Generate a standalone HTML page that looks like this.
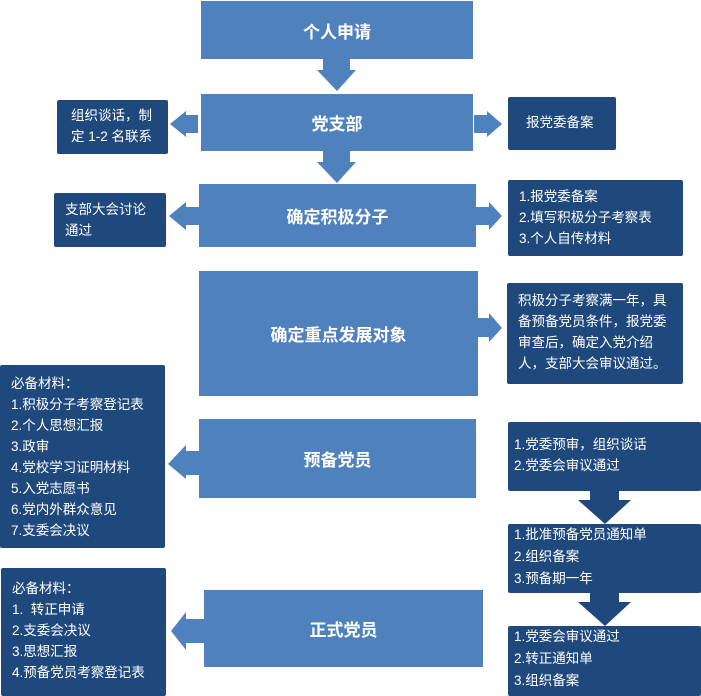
<!DOCTYPE html>
<html><head><meta charset="utf-8"><style>
body{margin:0;width:701px;height:696px;background:#fff;position:relative;overflow:hidden;font-family:"Liberation Sans","Noto Sans CJK SC",sans-serif;}
.b{position:absolute;background:#4F81BD;color:#fff;font-weight:bold;font-size:17px;display:flex;align-items:center;justify-content:center;}
.d{position:absolute;background:#1F497D;color:#fff;font-size:13.5px;line-height:21px;box-sizing:border-box;border-radius:2px;}
svg{position:absolute;left:0;top:0;}
</style></head><body>
<div class="b" style="left:201px;top:1px;width:272px;height:58px">个人申请</div>
<div class="b" style="left:201px;top:94px;width:272px;height:57px">党支部</div>
<div class="b" style="left:199px;top:184px;width:277px;height:63px">确定积极分子</div>
<div class="b" style="left:199px;top:271px;width:279px;height:125px">确定重点发展对象</div>
<div class="b" style="left:199px;top:419px;width:277px;height:79px">预备党员</div>
<div class="b" style="left:204px;top:590px;width:279px;height:77px">正式党员</div>

<div class="d" style="left:57px;top:100px;width:111px;height:54px;padding:5px 0 0 14px">组织谈话，制<br>定 1-2 名联系</div>
<div class="d" style="left:508px;top:97px;width:108px;height:53px;padding:15px 0 0 18px">报党委备案</div>
<div class="d" style="left:54px;top:193px;width:112px;height:54px;padding:6px 0 0 11px">支部大会讨论<br>通过</div>
<div class="d" style="left:508px;top:180px;width:175px;height:76px;padding:6px 0 0 11px">1.报党委备案<br>2.填写积极分子考察表<br>3.个人自传材料</div>
<div class="d" style="left:507px;top:283px;width:176px;height:101px;padding:7px 0 0 11px">积极分子考察满一年，具<br>备预备党员条件，报党委<br>审查后，确定入党介绍<br>人，支部大会审议通过。</div>
<div class="d" style="left:0px;top:365px;width:165px;height:183px;padding:8px 0 0 11px">必备材料：<br>1.积极分子考察登记表<br>2.个人思想汇报<br>3.政审<br>4.党校学习证明材料<br>5.入党志愿书<br>6.党内外群众意见<br>7.支委会决议</div>
<div class="d" style="left:1px;top:568px;width:165px;height:128px;padding:10px 0 0 11px">必备材料：<br>1.&nbsp; 转正申请<br>2.支委会决议<br>3.思想汇报<br>4.预备党员考察登记表</div>
<div class="d" style="left:508px;top:422px;width:193px;height:69px;padding:12px 0 0 6px">1.党委预审，组织谈话<br>2.党委会审议通过</div>
<div class="d" style="left:508px;top:524px;width:193px;height:69px;padding:0px 0 0 6px;line-height:22px">1.批准预备党员通知单<br>2.组织备案<br>3.预备期一年</div>
<div class="d" style="left:508px;top:626px;width:193px;height:70px;padding:0px 0 0 6px;line-height:22px">1.党委会审议通过<br>2.转正通知单<br>3.组织备案</div>

<svg width="701" height="696" fill="#4F81BD">
<polygon points="323,59 350,59 350,70 356,70 337,91 317,70 323,70"/>
<polygon points="323,151 350,151 350,162 356,162 337,183 317,162 323,162"/>
<polygon points="198,115 186,115 186,111 170,124 186,137 186,133 198,133"/>
<polygon points="474,115 487,115 487,111 502,124 487,137 487,133 474,133"/>
<polygon points="199,207 186,207 186,202 169,216 186,230 186,225 199,225"/>
<polygon points="476,207 489,207 489,202 502,216 489,230 489,225 476,225"/>
<polygon points="478,318 489,318 489,313 502,328 489,342 489,337 478,337"/>
<polygon points="199,451 186,451 186,445 168,464 186,479 186,475 199,475"/>
<polygon points="204,619 186,619 186,612 171,631 186,650 186,643 204,643"/>
<g fill="#1F497D">
<polygon points="590,491 619,491 619,500 631,500 605,524 578,500 590,500"/>
<polygon points="590,593 619,593 619,602 631,602 605,626 578,602 590,602"/>
</g>
</svg>
</body></html>
